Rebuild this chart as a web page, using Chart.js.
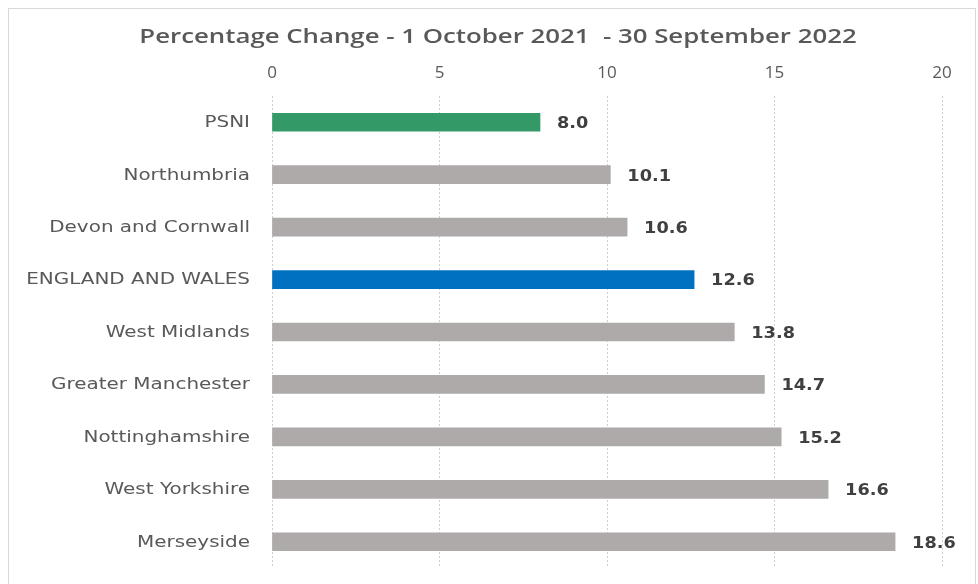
<!DOCTYPE html>
<html>
<head>
<meta charset="utf-8">
<script src="https://cdn.jsdelivr.net/npm/chart.js@4/dist/chart.umd.min.js"></script>
<style>
  html, body { margin: 0; padding: 0; background: #fff; }
  #wrap { width: 978px; height: 584px; position: relative; }
</style>
</head>
<body>
<div id="wrap"><canvas id="barCanvas"></canvas></div>
<script>
const forces = ["PSNI", "Northumbria", "Devon and Cornwall", "ENGLAND AND WALES", "West Midlands",
  "Greater Manchester", "Nottinghamshire", "West Yorkshire", "Merseyside"];
const pctChange = [8.0, 10.1, 10.6, 12.6, 13.8, 14.7, 15.2, 16.6, 18.6];
const barColours = ["#339966", "#AEAAAA", "#AEAAAA", "#0070C0", "#AEAAAA",
  "#AEAAAA", "#AEAAAA", "#AEAAAA", "#AEAAAA"];
const xTicks = [0, 5, 10, 15, 20];
const chartTitle = "Percentage Change - 1 October 2021  - 30 September 2022";

// the reference looks stretched sideways, so text is drawn here with a scaleX
function wideText(c, txt, x, y, sx) {
  c.save();
  c.translate(x, y);
  c.scale(sx, 1);
  c.fillText(txt, 0, 0);
  c.restore();
}

const extras = {
  id: "extras",
  beforeDraw(chart) {
    const c = chart.ctx;
    c.save();
    c.strokeStyle = "#d9d9d9";
    c.lineWidth = 1;
    c.strokeRect(8.5, 8.5, 967, 620);
    // title
    c.fillStyle = "#595959";
    c.font = "600 20px 'Open Sans'";
    c.textAlign = "center";
    c.textBaseline = "middle";
    wideText(c, chartTitle, 498, 37, 1.29);
    c.restore();
  },
  afterDatasetsDraw(chart) {
    const c = chart.ctx;
    const meta = chart.getDatasetMeta(0);
    const yScale = chart.scales.y;
    c.save();
    c.textBaseline = "middle";
    // category labels
    c.font = "15px 'DejaVu Sans'";
    c.fillStyle = "#595959";
    c.textAlign = "right";
    forces.forEach(function(name, i) {
      wideText(c, name, yScale.right - 22, yScale.getPixelForValue(i) + 1, 1.33);
    });
    // value labels
    c.font = "bold 15px 'DejaVu Sans'";
    c.fillStyle = "#404040";
    c.textAlign = "left";
    meta.data.forEach(function(bar, i) {
      wideText(c, pctChange[i].toFixed(1), bar.x + 17, bar.y + 2, 1.18);
    });
    c.restore();
  }
};

const barChart = new Chart(document.getElementById("barCanvas"), {
  type: "bar",
  data: {
    labels: forces,
    datasets: [{
      data: pctChange,
      backgroundColor: barColours,
      barThickness: 18
    }]
  },
  options: {
    indexAxis: "y",
    responsive: true,
    maintainAspectRatio: false,
    animation: false,
    layout: { padding: { top: 56, right: 36, bottom: 16, left: 0 } },
    plugins: {
      legend: { display: false },
      tooltip: { enabled: false },
      title: { display: false }
    },
    scales: {
      x: {
        position: "top",
        min: 0,
        max: 20,
        afterBuildTicks: function(s) { s.ticks = xTicks.map(function(v) { return { value: v }; }); },
        afterFit: function(s) { s.height = 40; },
        ticks: { color: "#595959", font: { family: "'Open Sans'", size: 17 }, padding: 13 },
        grid: { color: "#cfcfcf", drawTicks: false },
        border: { display: false, dash: [2, 2] }
      },
      y: {
        afterFit: function(s) { s.width = 272; },
        ticks: { display: false },
        grid: { display: false },
        border: { display: false }
      }
    }
  },
  plugins: [extras]
});
</script>
</body>
</html>
